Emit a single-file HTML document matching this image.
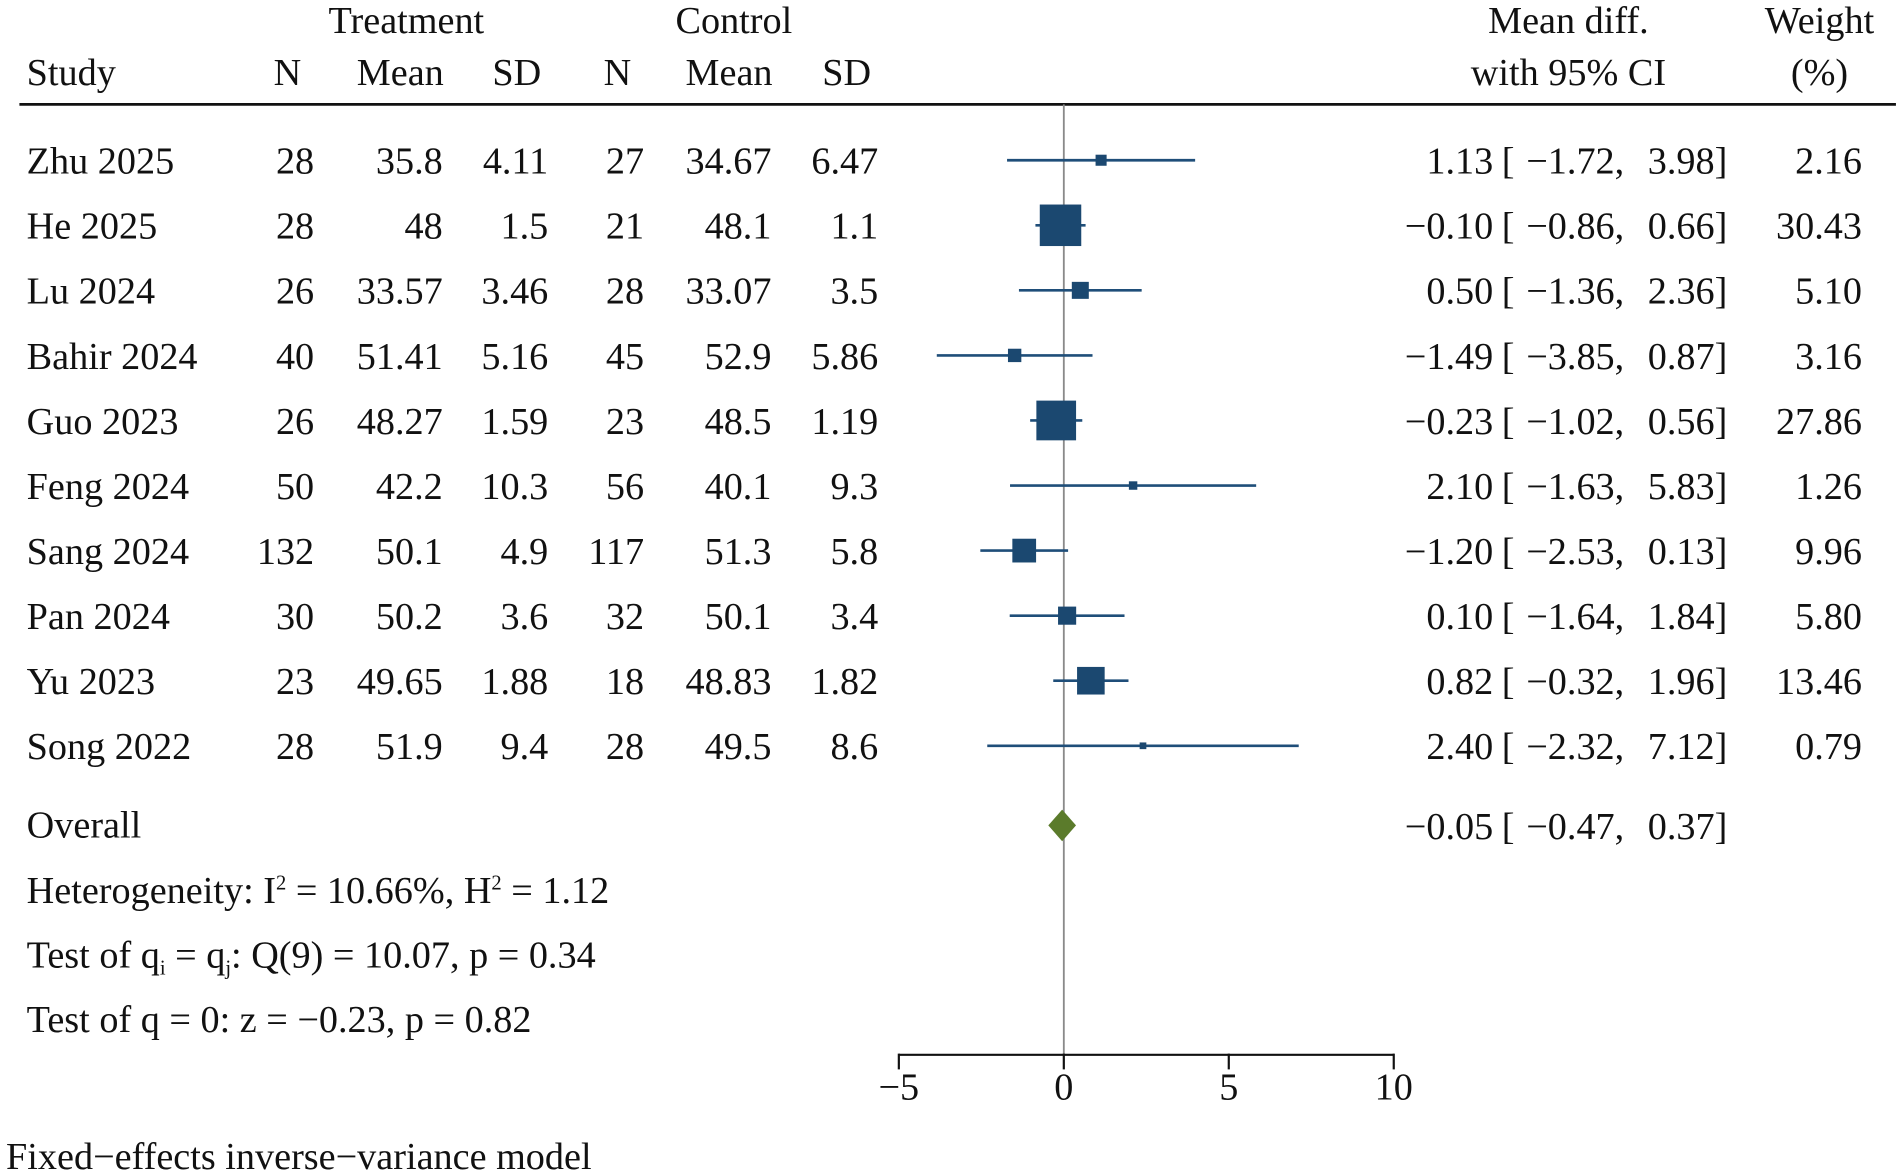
<!DOCTYPE html>
<html><head><meta charset="utf-8"><style>
html,body{margin:0;padding:0;background:#fff;}
svg{display:block;font-family:"Liberation Serif",serif;}
</style></head><body>
<svg id="chart" width="1902" height="1175" viewBox="0 0 1568 968" preserveAspectRatio="none" xmlns="http://www.w3.org/2000/svg">
<g font-size="31.5" fill="#111">
<text x="335" y="27" text-anchor="middle">Treatment</text>
<text x="605" y="27" text-anchor="middle">Control</text>
<text x="1293" y="27" text-anchor="middle">Mean diff.</text>
<text x="1500" y="27" text-anchor="middle">Weight</text>
<text x="22" y="70">Study</text>
<text x="237" y="70" text-anchor="middle">N</text>
<text x="330" y="70" text-anchor="middle">Mean</text>
<text x="426" y="70" text-anchor="middle">SD</text>
<text x="509" y="70" text-anchor="middle">N</text>
<text x="601" y="70" text-anchor="middle">Mean</text>
<text x="698" y="70" text-anchor="middle">SD</text>
<text x="1293" y="70" text-anchor="middle">with 95% CI</text>
<text x="1500" y="70" text-anchor="middle">(%)</text>
<text x="22" y="690">Overall</text>
<text x="22" y="744">Heterogeneity: I<tspan dy="-11" font-size="17">2</tspan><tspan dy="11"> = 10.66%, H</tspan><tspan dy="-11" font-size="17">2</tspan><tspan dy="11"> = 1.12</tspan></text>
<text x="22" y="797">Test of q<tspan dy="6" font-size="17">i</tspan><tspan dy="-6"> = q</tspan><tspan dy="6" font-size="17">j</tspan><tspan dy="-6">: Q(9) = 10.07, p = 0.34</tspan></text>
<text x="22" y="850">Test of q = 0: z = −0.23, p = 0.82</text>
<text x="5" y="963">Fixed−effects inverse−variance model</text>
</g>
<line x1="16" y1="86" x2="1563" y2="86" stroke="#111" stroke-width="2.2"/>
<g id="rows"></g>
<g id="axis"></g>
</svg>
<script>
const studies = ["Zhu 2025","He 2025","Lu 2024","Bahir 2024","Guo 2023","Feng 2024","Sang 2024","Pan 2024","Yu 2023","Song 2022"];
const tN = ["28","28","26","40","26","50","132","30","23","28"];
const tMean = ["35.8","48","33.57","51.41","48.27","42.2","50.1","50.2","49.65","51.9"];
const tSD = ["4.11","1.5","3.46","5.16","1.59","10.3","4.9","3.6","1.88","9.4"];
const cN = ["27","21","28","45","23","56","117","32","18","28"];
const cMean = ["34.67","48.1","33.07","52.9","48.5","40.1","51.3","50.1","48.83","49.5"];
const cSD = ["6.47","1.1","3.5","5.86","1.19","9.3","5.8","3.4","1.82","8.6"];
const est = [1.13,-0.10,0.50,-1.49,-0.23,2.10,-1.20,0.10,0.82,2.40];
const lower = [-1.72,-0.86,-1.36,-3.85,-1.02,-1.63,-2.53,-1.64,-0.32,-2.32];
const upper = [3.98,0.66,2.36,0.87,0.56,5.83,0.13,1.84,1.96,7.12];
const weight = [2.16,30.43,5.10,3.16,27.86,1.26,9.96,5.80,13.46,0.79];
const overallEst = -0.05, overallLower = -0.47, overallUpper = 0.37;
const ticks = [-5,0,5,10];

const NS = "http://www.w3.org/2000/svg";
const FS = 31.5;
const xs = v => 877 + v * 27.2;
const rowY = i => 132 + i * 53.6;
const fmt = v => (v < 0 ? "−" : "") + Math.abs(v).toFixed(2);
function mk(tag, attrs, parent, txt){
  const e = document.createElementNS(NS, tag);
  for (const k in attrs) e.setAttribute(k, attrs[k]);
  if (txt !== undefined) e.textContent = txt;
  parent.appendChild(e); return e;
}
const rows = document.getElementById("rows");
const axis = document.getElementById("axis");

let ref = mk("line",{x1:xs(0),y1:86,x2:xs(0),y2:869,stroke:"#8a8a8a","stroke-width":1.5},rows);



const cols = [[studies,22,"start"],[tN,259,"end"],[tMean,365,"end"],[tSD,452,"end"],[cN,531,"end"],[cMean,636,"end"],[cSD,724,"end"]];
const colNames = ["study-name","treatment-n","treatment-mean","treatment-sd","control-n","control-mean","control-sd"];
studies.forEach((s,i)=>{
  const y = rowY(i), by = y + 11;
  cols.forEach((c,j)=>{
    const t = mk("text",{x:c[1],y:by,"text-anchor":c[2],"font-size":FS,fill:"#111"},rows,c[0][i]);
    
    
  });
  const ci = mk("line",{x1:xs(lower[i]),y1:y,x2:xs(upper[i]),y2:y,stroke:"#1f4e79","stroke-width":2.2},rows);
  
  
  const side = 6.2*Math.sqrt(weight[i]);
  const b = mk("rect",{x:xs(est[i])-side/2,y:y-side/2,width:side,height:side,fill:"#1b4870"},rows);
  
  
  const e1 = mk("text",{x:1231,y:by,"text-anchor":"end","font-size":FS,fill:"#111"},rows,fmt(est[i]));
  
  
  const e2 = mk("text",{x:1238,y:by,"font-size":FS,fill:"#111"},rows,"[");
  
  
  const e3 = mk("text",{x:1339,y:by,"text-anchor":"end","font-size":FS,fill:"#111"},rows,fmt(lower[i])+",");
  
  
  const e4 = mk("text",{x:1424,y:by,"text-anchor":"end","font-size":FS,fill:"#111"},rows,fmt(upper[i])+"]");
  
  
  const w = mk("text",{x:1535,y:by,"text-anchor":"end","font-size":FS,fill:"#111"},rows,weight[i].toFixed(2));
  
  
});
const oy = 680;
const d = mk("polygon",{points:`${xs(overallLower)},${oy} ${xs(overallEst)},${oy-13} ${xs(overallUpper)},${oy} ${xs(overallEst)},${oy+13}`,fill:"#5b7b2b"},rows);


[[1231,"end",fmt(overallEst),"overall-estimate"],[1238,"start","[","overall-bracket"],[1339,"end",fmt(overallLower)+",","overall-lower"],[1424,"end",fmt(overallUpper)+"]","overall-upper"]].forEach(a=>{
  const t = mk("text",{x:a[0],y:oy+11,"text-anchor":a[1],"font-size":FS,fill:"#111"},rows,a[2]);
  
  
});
const al = mk("line",{x1:xs(ticks[0]),y1:869,x2:xs(ticks[ticks.length-1]),y2:869,stroke:"#111","stroke-width":1.8},axis);


ticks.forEach(t=>{
  const tk = mk("line",{x1:xs(t),y1:868,x2:xs(t),y2:881,stroke:"#111","stroke-width":1.8},axis);
  
  
  const lb = mk("text",{x:xs(t),y:906,"text-anchor":"middle","font-size":FS,fill:"#111"},axis,(t<0?"−":"")+Math.abs(t));
  
  
});
</script>
</body></html>
